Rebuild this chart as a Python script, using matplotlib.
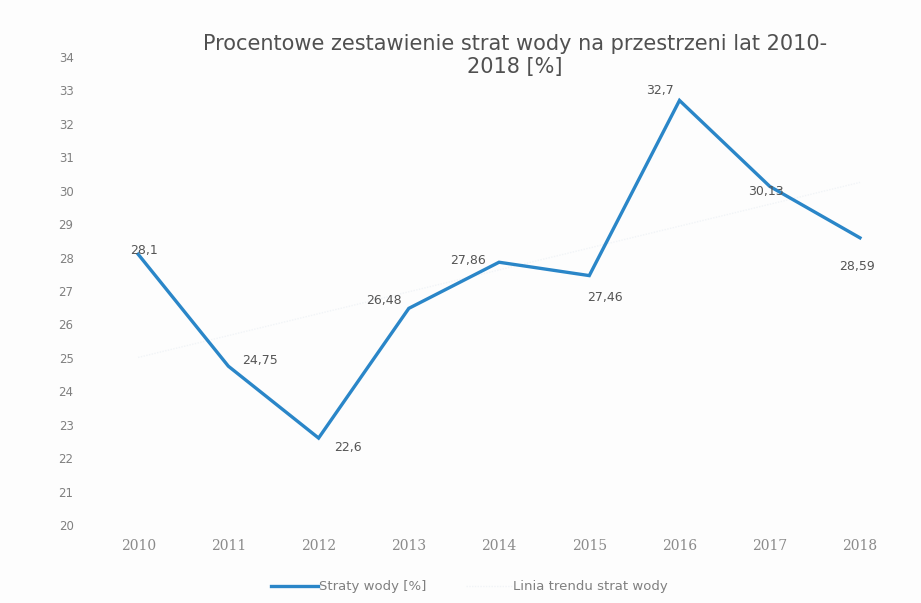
import matplotlib
matplotlib.use("Agg")
import matplotlib.pyplot as plt
import numpy as np

years = ["2010", "2011", "2012", "2013", "2014", "2015", "2016", "2017", "2018"]
losses = [28.1, 24.75, 22.6, 26.48, 27.86, 27.46, 32.7, 30.13, 28.59]
label_texts = ["28,1", "24,75", "22,6", "26,48", "27,86", "27,46", "32,7", "30,13", "28,59"]
y_ticks = list(range(20, 35))

# label offsets in points (dx, dy)
offsets = [(4, 3), (23, 4), (21, -7), (-18, 6), (-22, 1), (11, -16), (-14, 7), (-3, -4), (-2, -21)]

plt.rcParams['font.family'] = ['DejaVu Sans']

fig = plt.figure(figsize=(9.21, 6.03), dpi=100)
fig.patch.set_facecolor('#fdfdfd')
ax = fig.add_axes([0.101, 0.1294, 0.8817, 0.7761])
ax.set_facecolor('#fdfdfd')

x = np.arange(len(years))
ax.plot(x, losses, color='#2a86c8', lw=2.4, solid_joinstyle='miter', label='Straty wody [%]', zorder=3)

coef = np.polyfit(x, losses, 1)
ax.plot(x, np.polyval(coef, x), color='#f1f4f7', lw=1.0, ls=(0, (1, 1)),
        label='Linia trendu strat wody', zorder=2)

for xi, yi, t, (dx, dy) in zip(x, losses, label_texts, offsets):
    ax.annotate(t, (xi, yi), xytext=(dx, dy), textcoords='offset points',
                ha='center', va='center', fontsize=9, color='#555555', zorder=4)

ax.set_xlim(-0.5, len(years) - 0.5)
ax.set_ylim(20, 34)
ax.set_yticks(y_ticks)
ax.set_yticklabels([str(v) for v in y_ticks], fontsize=8.5, color='#808080')
ax.set_xticks(x)
ax.set_xticklabels(years, fontsize=10, color='#8a8a8a', family=['DejaVu Serif'])
ax.tick_params(axis='both', length=0)
ax.tick_params(axis='y', pad=14)
ax.tick_params(axis='x', pad=10)
for s in ax.spines.values():
    s.set_visible(False)

fig.text(0.559, 0.908, "Procentowe zestawienie strat wody na przestrzeni lat 2010-\n2018 [%]",
         ha='center', va='center', fontsize=15, color='#505050', linespacing=1.2)

leg = ax.legend(loc='center', bbox_to_anchor=(0.51, 0.027), bbox_transform=fig.transFigure,
                ncol=2, frameon=False, fontsize=9.5, labelcolor='#808080',
                handlelength=3.5, columnspacing=3, handletextpad=0.1)

fig.savefig("out.png", dpi=100, facecolor=fig.get_facecolor())
